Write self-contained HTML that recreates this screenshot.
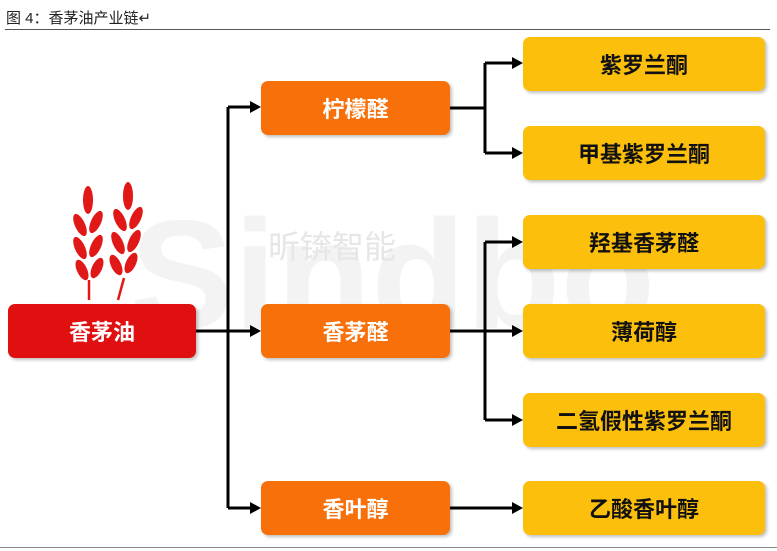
<!DOCTYPE html>
<html><head><meta charset="utf-8"><style>
body{margin:0;width:777px;height:551px;background:#fff;position:relative;overflow:hidden;font-family:"Liberation Sans","Noto Sans CJK SC",sans-serif}
.t{position:absolute;left:6px;top:7px;font-size:15px;color:#222}
.hl{position:absolute;left:5px;top:29px;width:765px;height:1px;background:#555}
.bl{position:absolute;left:0;top:547px;width:777px;height:1px;background:#888}
.b{position:absolute;display:flex;align-items:center;justify-content:center;font-weight:bold;font-size:22px;border-radius:7px;box-shadow:2px 2px 3px rgba(0,0,0,.25)}
.r{background:#e01010;color:#fff;left:8px;width:188px;height:54px}
.o{background:#f7700a;color:#fff;left:261px;width:189px;height:54px}
.y{background:#fcbf0c;color:#111;left:523px;width:242px;height:54px}
.wm{position:absolute;font-weight:bold;white-space:nowrap}
</style></head><body>
<div class="t">图 4：香茅油产业链↵</div>
<div class="hl"></div>
<div class="wm" style="left:130px;top:195px;font-size:155px;line-height:160px;color:#f3f3f3">Sindbo</div>
<div class="wm" style="left:268px;top:222px;font-size:32px;color:#e6e6e6;font-weight:normal">昕锛智能</div>
<svg style="position:absolute;left:0;top:0" width="777" height="551">
<g fill="#e01818">
<ellipse cx="88" cy="200" rx="5" ry="14"/>
<ellipse cx="80" cy="225" rx="5" ry="12" transform="rotate(-25 80 225)"/><ellipse cx="96" cy="222" rx="5" ry="12" transform="rotate(25 96 222)"/>
<ellipse cx="80" cy="248" rx="5" ry="12" transform="rotate(-25 80 248)"/><ellipse cx="96" cy="246" rx="5" ry="12" transform="rotate(25 96 246)"/>
<ellipse cx="82" cy="270" rx="5" ry="11" transform="rotate(-25 82 270)"/><ellipse cx="97" cy="268" rx="5" ry="11" transform="rotate(25 97 268)"/>
<ellipse cx="128" cy="196" rx="5" ry="14"/>
<ellipse cx="120" cy="220" rx="5" ry="12" transform="rotate(-25 120 220)"/><ellipse cx="136" cy="218" rx="5" ry="12" transform="rotate(25 136 218)"/>
<ellipse cx="118" cy="243" rx="5" ry="12" transform="rotate(-25 118 243)"/><ellipse cx="134" cy="241" rx="5" ry="12" transform="rotate(25 134 241)"/>
<ellipse cx="116" cy="265" rx="5" ry="11" transform="rotate(-25 116 265)"/><ellipse cx="131" cy="263" rx="5" ry="11" transform="rotate(25 131 263)"/>
</g>
<g stroke="#e01818" stroke-width="2.5" fill="none"><path d="M89 280V300"/><path d="M124 278L118 300"/></g>
<g stroke="#000" stroke-width="3" fill="none">
<path d="M196 331H228M228 107V508M228 107H252M228 331H252M228 508H252"/>
<path d="M450 108H485M485 63V153M485 63H514M485 153H514"/>
<path d="M450 331H485M485 242V420M485 242H514M485 331H514M485 420H514"/>
<path d="M450 508H514"/>
</g>
<g fill="#000">
<path d="M261 107l-11-6v12z"/><path d="M261 331l-11-6v12z"/><path d="M261 508l-11-6v12z"/>
<path d="M523 63l-11-6v12z"/><path d="M523 153l-11-6v12z"/><path d="M523 242l-11-6v12z"/><path d="M523 331l-11-6v12z"/><path d="M523 420l-11-6v12z"/><path d="M523 508l-11-6v12z"/>
</g>
</svg>
<div class="b r" style="top:304px">香茅油</div>
<div class="b o" style="top:81px">柠檬醛</div>
<div class="b o" style="top:304px">香茅醛</div>
<div class="b o" style="top:481px">香叶醇</div>
<div class="b y" style="top:37px">紫罗兰酮</div>
<div class="b y" style="top:126px">甲基紫罗兰酮</div>
<div class="b y" style="top:215px">羟基香茅醛</div>
<div class="b y" style="top:304px">薄荷醇</div>
<div class="b y" style="top:393px">二氢假性紫罗兰酮</div>
<div class="b y" style="top:481px">乙酸香叶醇</div>
<div class="bl"></div>
</body></html>
